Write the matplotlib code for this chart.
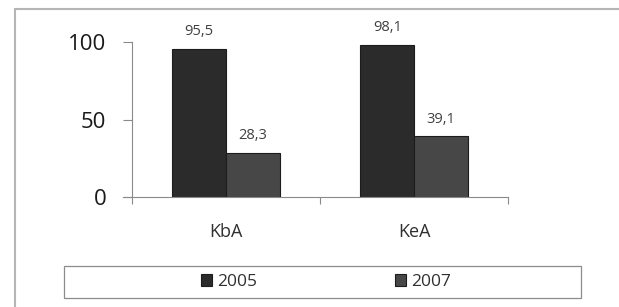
import matplotlib
matplotlib.use("Agg")
import matplotlib.pyplot as plt
from matplotlib.patches import Rectangle
import numpy as np

categories = ["KbA", "KeA"]
years = ["2005", "2007"]
values_2005 = [95.5, 98.1]
values_2007 = [28.3, 39.1]
y_ticks = [0, 50, 100]

plt.rcParams['font.family'] = ['Open Sans', 'DejaVu Sans']

W, H = 619, 307
fig = plt.figure(figsize=(W / 100, H / 100), dpi=100)

# outer chart frame (runs off right and bottom edge)
fig.patches.append(Rectangle((15 / W, -0.05), 1.0, 1 - 9 / H + 0.05,
                             transform=fig.transFigure, fill=False,
                             edgecolor="#b5b5b5", linewidth=1.5))

ax = fig.add_axes([132 / W, 1 - 197 / H, 376 / W, 155 / H])

x = np.arange(len(categories))
w = 0.285
colors = {"2005": "#2b2b2b", "2007": "#474747"}
b1 = ax.bar(x - w / 2, values_2005, w, color=colors["2005"], edgecolor="#1c1c1c", linewidth=0.8, label="2005")
b2 = ax.bar(x + w / 2, values_2007, w, color=colors["2007"], edgecolor="#1c1c1c", linewidth=0.8, label="2007")

for bars in (b1, b2):
    for rect in bars:
        v = rect.get_height()
        ax.annotate(f"{v:.1f}".replace(".", ","),
                    (rect.get_x() + rect.get_width() / 2, v),
                    xytext=(0, 7), textcoords="offset points",
                    ha="center", va="bottom", fontsize=10.5, color="#404040")

ax.set_xlim(-0.5, 1.5)
ax.set_ylim(0, 100)

for s in ("top", "right"):
    ax.spines[s].set_visible(False)
for s in ("left", "bottom"):
    ax.spines[s].set_color("#8a8a8a")
    ax.spines[s].set_linewidth(0.8)
ax.spines["bottom"].set_bounds(-0.548, 1.5)

ax.set_yticks(y_ticks)
ax.set_yticklabels([str(t) for t in y_ticks])
ax.tick_params(axis="y", direction="out", length=6.5, width=0.8, color="#8a8a8a",
               pad=12, labelsize=16, labelcolor="#1a1a1a")

ax.set_xticks([-0.5, 0.5, 1.5])
ax.set_xticklabels([])
ax.tick_params(axis="x", which="major", direction="out", length=5, width=0.8, color="#8a8a8a")
ax.set_xticks(x, minor=True)
ax.set_xticklabels(categories, minor=True)
ax.tick_params(axis="x", which="minor", length=0, pad=19, labelsize=13, labelcolor="#303030")

# legend box
fig.patches.append(Rectangle((64 / W, 1 - 298 / H), (581 - 64) / W, 32 / H,
                             transform=fig.transFigure, fill=False,
                             edgecolor="#8c8c8c", linewidth=0.9))
fig.legend(handles=[b1, b2], labels=years, loc="center",
           bbox_to_anchor=(326 / W, 1 - 282 / H), ncol=2, frameon=False,
           fontsize=12.5, handlelength=0.65, handleheight=0.65,
           handletextpad=0.3, columnspacing=7.9, labelcolor="#303030")

fig.savefig("out.png", dpi=100)
